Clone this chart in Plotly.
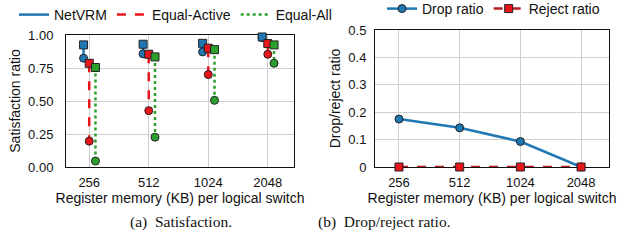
import numpy as np
import plotly.graph_objects as go

categories = ["256", "512", "1024", "2048"]

# Satisfaction ratio (square = upper value, circle = lower value)
netvrm_hi = [0.925, 0.93, 0.937, 0.985]
netvrm_lo = [0.824, 0.857, 0.872, 0.98]
eqact_hi = [0.786, 0.854, 0.90, 0.935]
eqact_lo = [0.196, 0.427, 0.70, 0.854]
eqall_hi = [0.754, 0.834, 0.889, 0.925]
eqall_lo = [0.045, 0.226, 0.505, 0.786]

# Drop / reject ratio
drop_ratio = [0.175, 0.143, 0.093, 0.0]
reject_ratio = [0.0, 0.0, 0.0, 0.0]

BLUE = "#1f77b4"
RED = "#e8151b"
GREEN = "#2ca02c"
DARKRED = "#b81d1d"
FONT = "Liberation Sans"

fig = go.Figure()
idx = np.arange(len(categories))

series = [
    ("NetVRM", netvrm_hi, netvrm_lo, BLUE, "solid", -0.095),
    ("Equal-Active", eqact_hi, eqact_lo, RED, "dash", 0.0),
    ("Equal-All", eqall_hi, eqall_lo, GREEN, "dot", 0.105),
]
for name, hi, lo, col, dash, off in series:
    xs, ys = [], []
    for i, (h, l) in enumerate(zip(hi, lo)):
        xs += [i + off, i + off, None]
        ys += [h, l, None]
    fig.add_trace(go.Scatter(x=xs, y=ys, mode="lines", showlegend=False,
                             line=dict(color=col, width=2.5, dash=dash),
                             xaxis="x", yaxis="y"))
    fig.add_trace(go.Scatter(x=idx + off, y=lo, mode="markers", showlegend=False,
                             cliponaxis=False,
                             marker=dict(symbol="circle", size=8, color=col,
                                         line=dict(color="#222", width=1)),
                             xaxis="x", yaxis="y"))
    fig.add_trace(go.Scatter(x=idx + off, y=hi, mode="markers", showlegend=False,
                             cliponaxis=False,
                             marker=dict(symbol="square", size=8, color=col,
                                         line=dict(color="#222", width=1)),
                             xaxis="x", yaxis="y"))
    # legend-only entry
    fig.add_trace(go.Scatter(x=[None], y=[None], mode="lines", name=name,
                             line=dict(color=col, width=2.5, dash=dash),
                             xaxis="x", yaxis="y", legend="legend"))

fig.add_trace(go.Scatter(x=idx, y=drop_ratio, mode="lines+markers", name="Drop ratio",
                         cliponaxis=False,
                         line=dict(color=BLUE, width=2.5),
                         marker=dict(symbol="circle", size=8, color=BLUE,
                                     line=dict(color="#222", width=1)),
                         xaxis="x2", yaxis="y2", legend="legend2"))
fig.add_trace(go.Scatter(x=idx, y=reject_ratio, mode="lines+markers", name="Reject ratio",
                         cliponaxis=False,
                         line=dict(color=DARKRED, width=2.5, dash="dash"),
                         marker=dict(symbol="square", size=8, color=RED,
                                     line=dict(color="#222", width=1)),
                         xaxis="x2", yaxis="y2", legend="legend2"))

W, H = 633, 252
def px_x(p): return p / W
def px_y(p): return 1 - p / H

axis_common = dict(showline=True, mirror=True, linecolor="#111", linewidth=1,
                   showgrid=True, gridcolor="#cfcfcf", gridwidth=1, zeroline=False,
                   ticks="", automargin=False, layer="below traces",
                   tickfont=dict(family=FONT, size=13, color="#111"),
                   title_font=dict(family=FONT, size=14, color="#111"))

fig.update_layout(
    width=W, height=H, margin=dict(l=0, r=0, t=0, b=0, autoexpand=False),
    paper_bgcolor="white", plot_bgcolor="white",
    font=dict(family=FONT, size=14, color="#111"),
    xaxis=dict(domain=[px_x(66), px_x(294)], range=[-0.39, 3.44],
               tickvals=list(idx), ticktext=categories, ticklabelstandoff=3,
               title=dict(text="Register memory (KB) per logical switch", standoff=2),
               anchor="y", **axis_common),
    yaxis=dict(domain=[px_y(167), px_y(35)], range=[0, 1.0],
               tickvals=[0, 0.25, 0.5, 0.75, 1.0], tickformat=".2f", ticklabelstandoff=9,
               title=dict(text="Satisfaction ratio", standoff=4),
               anchor="x", **axis_common),
    xaxis2=dict(domain=[px_x(375), px_x(609)], range=[-0.395, 3.46],
                tickvals=list(idx), ticktext=categories, ticklabelstandoff=3,
                title=dict(text="Register memory (KB) per logical switch", standoff=2),
                anchor="y2", **axis_common),
    yaxis2=dict(domain=[px_y(167), px_y(30)], range=[0, 0.5],
                tickvals=[0, 0.1, 0.2, 0.3, 0.4, 0.5], ticktext=["0", "0.1", "0.2", "0.3", "0.4", "0.5"],
                ticklabelstandoff=5,
                title=dict(text="Drop/reject ratio", standoff=4),
                anchor="x2", **axis_common),
    legend=dict(orientation="h", x=px_x(14), y=px_y(-1), xanchor="left", yanchor="top",
                font=dict(family=FONT, size=14, color="#111"), bgcolor="rgba(0,0,0,0)",
                itemwidth=30, tracegroupgap=0),
    legend2=dict(orientation="h", x=px_x(382), y=px_y(-7), xanchor="left", yanchor="top",
                 font=dict(family=FONT, size=14, color="#111"), bgcolor="rgba(0,0,0,0)",
                 itemwidth=30),
    annotations=[
        dict(text="(a)  Satisfaction.", x=px_x(128), y=px_y(233), xref="paper", yref="paper",
             showarrow=False, font=dict(family="Liberation Serif", size=15.5, color="#111")),
        dict(text="(b)  Drop/reject ratio.", x=px_x(453), y=px_y(233), xref="paper", yref="paper",
             showarrow=False, font=dict(family="Liberation Serif", size=15.5, color="#111")),
    ],
)

fig.write_html("out.html", config={"displayModeBar": False},
               post_script="document.body.style.margin='0';document.body.style.padding='0';")
